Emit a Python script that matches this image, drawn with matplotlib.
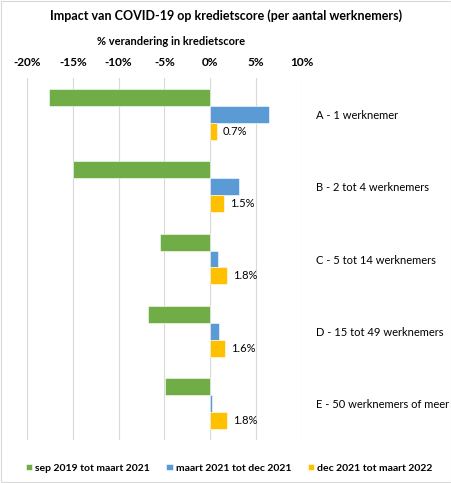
import matplotlib
matplotlib.use('agg')
import matplotlib.pyplot as plt
from matplotlib.patches import Rectangle
import numpy as np

categories = ['A - 1 werknemer', 'B - 2 tot 4 werknemers', 'C - 5 tot 14 werknemers',
              'D - 15 tot 49 werknemers', 'E - 50 werknemers of meer']
series_names = ['sep 2019 tot maart 2021', 'maart 2021 tot dec 2021', 'dec 2021 tot maart 2022']
sep19_mrt21 = [-17.6, -15.0, -5.5, -6.8, -4.9]
mrt21_dec21 = [6.4, 3.1, 0.8, 1.0, 0.2]
dec21_mrt22 = [0.7, 1.5, 1.8, 1.6, 1.8]
xticks = [-20, -15, -10, -5, 0, 5, 10]

colors = ['#70AD47', '#5B9BD5', '#FFC000']

plt.rcParams['font.family'] = ['Lato', 'DejaVu Sans']

fig = plt.figure(figsize=(4.52, 4.83), dpi=100)
ax = fig.add_axes([0.0597, 0.089, 0.6083, 0.7495])

y = np.arange(len(categories))
h = 0.234
for k, vals in enumerate([sep19_mrt21, mrt21_dec21, dec21_mrt22]):
    ax.barh(y + (k - 1) * h, vals, height=h, color=colors[k],
            edgecolor='white', linewidth=0.4, label=series_names[k], zorder=3)

for yi, v in zip(y, dec21_mrt22):
    ax.text(v + 0.7, yi + h, '%.1f%%' % v, va='center', ha='left', fontsize=8)

ax.set_xlim(-20, 10)
ax.set_ylim(len(categories) - 0.5, -0.5)
ax.set_xticks(xticks)
ax.set_xticklabels(['%d%%' % t for t in xticks], fontweight='bold', fontsize=8.5)
ax.xaxis.tick_top()
ax.tick_params(axis='x', length=0, pad=7)
ax.grid(axis='x', color='#D9D9D9', linewidth=0.8, zorder=0)

ax.yaxis.tick_right()
ax.set_yticks(y)
ax.set_yticklabels(categories, fontsize=8)
ax.tick_params(axis='y', length=0, pad=10)

for s in ax.spines.values():
    s.set_visible(False)

fig.text(0.5, 0.967, 'Impact van COVID-19 op kredietscore (per aantal werknemers)',
         ha='center', va='center', fontsize=9, fontweight='bold')
fig.text(0.378, 0.915, '% verandering in kredietscore',
         ha='center', va='center', fontsize=8, fontweight='bold')

leg = fig.legend(loc='center', bbox_to_anchor=(0.507, 0.031), ncol=3, frameon=False,
                 prop={'weight': 'bold', 'size': 7.5},
                 handlelength=0.6, handleheight=0.6, handletextpad=0.3, columnspacing=1.6)

fig.patches.append(Rectangle((0.002, 0.002), 0.996, 0.996, transform=fig.transFigure,
                             fill=False, edgecolor='#D9D9D9', linewidth=0.8))

plt.savefig('out.png', dpi=100)
